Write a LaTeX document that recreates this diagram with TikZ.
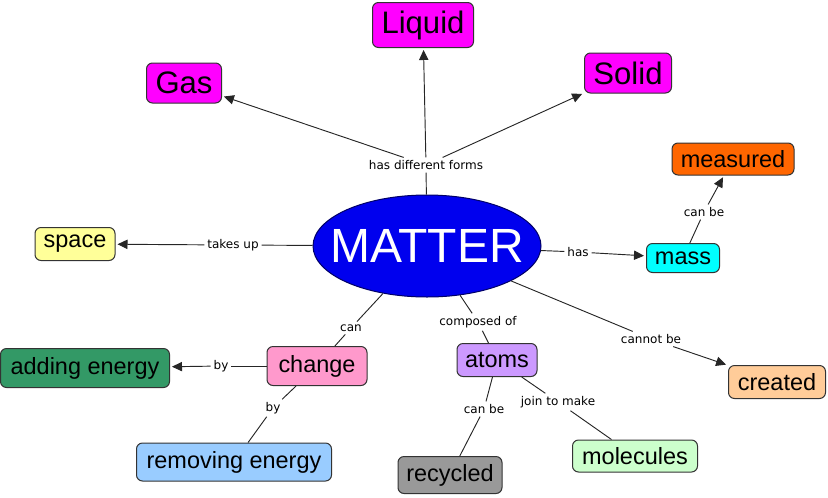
\documentclass[tikz,border=0pt]{standalone}
\usepackage{fontspec}
\setmainfont{Liberation Sans}
\newfontfamily\lblfont{DejaVu Sans}
\usetikzlibrary{arrows.meta,shapes.geometric}
\definecolor{cMag}{HTML}{FF00FF}
\definecolor{cMeas}{HTML}{FF6600}
\definecolor{cMass}{HTML}{00FFFF}
\definecolor{cSpace}{HTML}{FFFF99}
\definecolor{cAdd}{HTML}{339966}
\definecolor{cChange}{HTML}{FF99CC}
\definecolor{cRemove}{HTML}{99CCFF}
\definecolor{cAtoms}{HTML}{CC99FF}
\definecolor{cRecyc}{HTML}{999999}
\definecolor{cMol}{HTML}{CCFFCC}
\definecolor{cCreated}{HTML}{FFCC99}
\definecolor{cMatter}{HTML}{0000EE}
\definecolor{cMatterB}{HTML}{000066}
\begin{document}
\begin{tikzpicture}[x=0.75pt,y=-0.75pt,
  box/.style={draw=black!80, rounded corners=4.5pt, line width=0.75pt, inner sep=0pt, align=center},
  big/.style={box, font=\fontsize{23.3pt}{26pt}\selectfont},
  med/.style={box, font=\fontsize{17.6pt}{20pt}\selectfont},
  lbl/.style={inner sep=2pt, font=\lblfont\fontsize{9pt}{10pt}\selectfont},
  conn/.style={draw=black!85, line width=0.7pt},
  arr/.style={conn, -{Triangle[length=7.5pt,width=7pt]}, shorten >=1.5pt}]
\useasboundingbox (0,0) rectangle (828,497);

\node[ellipse, draw=cMatterB, line width=0.75pt, fill=cMatter, text=white, inner sep=0pt,
  minimum width=171pt, minimum height=76.5pt, font=\fontsize{36pt}{40pt}\selectfont] (matter) at (427,246) {\makebox[0pt]{MATTER}};

\node[big, fill=cMag, minimum width=56.25pt, minimum height=30pt] (gas) at (184,83) {Gas};
\node[big, fill=cMag, minimum width=75.75pt, minimum height=33.75pt] (liquid) at (423,25) {Liquid};
\node[big, fill=cMag, minimum width=65.25pt, minimum height=30pt] (solid) at (628,73) {Solid};

\node[med, fill=cMeas, minimum width=91.5pt, minimum height=24pt] (measured) at (733,159) {measured};
\node[med, fill=cMass, minimum width=54.75pt, minimum height=21.75pt] (mass) at (683,258) {mass};
\node[med, fill=cSpace, minimum width=60pt, minimum height=24.75pt] (space) at (75,244) {space};
\node[med, fill=cAdd, minimum width=126.75pt, minimum height=29.25pt] (adding) at (85,368) {adding energy};
\node[med, fill=cChange, minimum width=75pt, minimum height=29.25pt] (change) at (317,366) {change};
\node[med, fill=cRemove, minimum width=146.25pt, minimum height=28.5pt] (removing) at (234,462) {removing energy};
\node[med, fill=cAtoms, minimum width=60pt, minimum height=24.75pt] (atoms) at (497,360) {atoms};
\node[med, fill=cRecyc, minimum width=78pt, minimum height=27.75pt] (recycled) at (450,475) {recycled};
\node[med, fill=cMol, minimum width=93.75pt, minimum height=24pt] (molecules) at (635,456) {molecules};
\node[med, fill=cCreated, minimum width=72.75pt, minimum height=24.75pt] (created) at (777,382) {created};

\node[lbl] (lforms) at (426,165) {has different forms};
\node[lbl] (ltakes) at (233,245) {takes up};
\node[lbl] (lhas) at (578,252) {has};
\node[lbl] (lcanbem) at (704,212) {can be};
\node[lbl] (lcannot) at (651,339) {cannot be};
\node[lbl] (lcomposed) at (478,322) {composed of};
\node[lbl] (lcanber) at (484,409) {can be};
\node[lbl] (ljoin) at (558,402) {join to make};
\node[lbl] (lcan) at (351,328) {can};
\node[lbl] (lby1) at (221,366) {by};
\node[lbl] (lby2) at (273,408) {by};

\draw[conn] (matter) -- (lforms);
\draw[arr] (lforms) -- (gas);
\draw[arr] (lforms) -- (liquid);
\draw[arr] (lforms) -- (solid);
\draw[conn] (matter) -- (ltakes);
\draw[arr] (ltakes) -- (space);
\draw[conn] (matter) -- (lhas);
\draw[arr] (lhas) -- (mass);
\draw[conn] (mass) -- (lcanbem);
\draw[arr] (lcanbem) -- (measured);
\draw[conn] (matter) -- (lcannot);
\draw[arr] (lcannot) -- (created);
\draw[conn] (matter) -- (lcomposed);
\draw[conn] (lcomposed) -- (atoms);
\draw[conn] (atoms) -- (lcanber);
\draw[conn] (lcanber) -- (recycled);
\draw[conn] (atoms) -- (ljoin);
\draw[conn] (ljoin) -- (molecules);
\draw[conn] (matter) -- (lcan);
\draw[conn] (lcan) -- (change);
\draw[conn] (change) -- (lby1);
\draw[arr] (lby1) -- (adding);
\draw[conn] (change) -- (lby2);
\draw[conn] (lby2) -- (removing);
\end{tikzpicture}
\end{document}
